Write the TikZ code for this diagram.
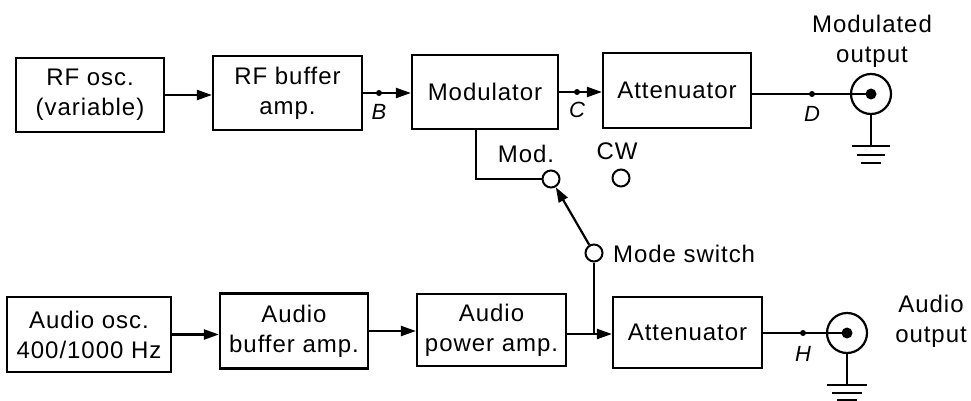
\documentclass[tikz,border=0pt]{standalone}
\usepackage{fontspec}
\setmainfont[LetterSpace=4]{Liberation Sans}
\usetikzlibrary{arrows.meta}
\begin{document}
\begin{tikzpicture}[x=1pt,y=-1pt,
  every path/.style={line width=2.2pt},
  every node/.style={inner sep=0pt, font=\fontsize{24}{30}\selectfont},
  blk/.style={draw, line width=2.2pt, rectangle, align=center},
  arr/.style={-{Triangle[length=15pt,width=10pt]}},
  lab/.style={font=\fontsize{22}{24}\selectfont\itshape},
  dot/.style={circle, fill, minimum size=6pt},
  con/.style={circle, draw, line width=2.2pt, minimum size=40pt},
  sw/.style={circle, draw, line width=2pt, minimum size=17pt}]
\useasboundingbox (0,0) rectangle (971,401);
% top row
\node[blk, minimum width=148pt, minimum height=74pt] (rfosc) at (90,95) {RF osc.\\(variable)};
\node[blk, minimum width=149pt, minimum height=74pt] (rfbuf) at (287.5,93) {RF buffer\\amp.};
\node[blk, minimum width=146pt, minimum height=74pt] (mod) at (485,92) {Modulator};
\node[blk, minimum width=148pt, minimum height=75pt] (att1) at (677,90.5) {Attenuator};
\node[con] (con1) at (871,94) {};
\node[dot, minimum size=11pt] (in1) at (con1.center) {};
\node[anchor=north, align=center] (mlab) at (872,14.5) {Modulated\\output};
\draw[arr] (rfosc.east) -- (rfosc.east -| rfbuf.west);
\draw[arr] (rfbuf.east) -- (rfbuf.east -| mod.west);
\draw[arr] (mod.east) -- (mod.east -| att1.west);
\draw (att1.east |- con1.center) -- (in1.center);
\node[dot] (pB) at (379,93) {};
\node[dot] (pC) at (577,92) {};
\node[dot] (pD) at (812,94) {};
\node[lab] (lB) at (379,112) {B};
\node[lab] (lC) at (577,110) {C};
\node[lab] (lD) at (812,114) {D};
\coordinate (g1) at (871,146);
\draw (con1.south) -- (g1);
\draw ([shift={(-19,0)}]g1) -- ([shift={(19,0)}]g1);
\draw ([shift={(-14,9)}]g1) -- ([shift={(14,9)}]g1);
\draw ([shift={(-10,17)}]g1) -- ([shift={(10,17)}]g1);
% switch
\node[sw] (modc) at (551,179) {};
\node[sw] (cwc) at (621,178) {};
\node[sw] (msw) at (594,253) {};
\node[anchor=base] (lmod) at (526,162) {Mod.};
\node[anchor=base] (lcw) at (617,159) {CW};
\node[anchor=base west] (lmsw) at (612,262) {Mode switch};
\draw ([xshift=-9pt]mod.south) |- (modc.west);
\draw[arr] (msw) -- (modc);
% bottom row
\node[blk, minimum width=164pt, minimum height=75pt] (aosc) at (89,334.5) {Audio osc.\\400/1000 Hz};
\node[blk, minimum width=148pt, minimum height=75pt] (abuf) at (294,331) {Audio\\buffer amp.};
\node[blk, minimum width=149pt, minimum height=72pt] (apow) at (491.5,330) {Audio\\power amp.};
\node[blk, minimum width=149pt, minimum height=71pt] (att2) at (687.5,332.5) {Attenuator};
\node[con] (con2) at (847,333) {};
\node[dot, minimum size=11pt] (in2) at (con2.center) {};
\node[anchor=north, align=center] (alab) at (931,294.5) {Audio\\output};
\draw[arr] (aosc.east) -- (aosc.east -| abuf.west);
\draw[arr] (abuf.east) -- (abuf.east -| apow.west);
\coordinate (j) at (594,334);
\draw (apow.east |- j) -- (j);
\draw[arr] (j) -- (j -| att2.west);
\draw (msw.south) -- (j);
\draw (att2.east |- con2.center) -- (in2.center);
\node[dot] (pH) at (803,333) {};
\node[lab] (lH) at (803,354) {H};
\coordinate (g2) at (847,385);
\draw (con2.south) -- (g2);
\draw ([shift={(-20,0)}]g2) -- ([shift={(20,0)}]g2);
\draw ([shift={(-15,8)}]g2) -- ([shift={(15,8)}]g2);
\draw ([shift={(-10,15)}]g2) -- ([shift={(10,15)}]g2);
\end{tikzpicture}
\end{document}
